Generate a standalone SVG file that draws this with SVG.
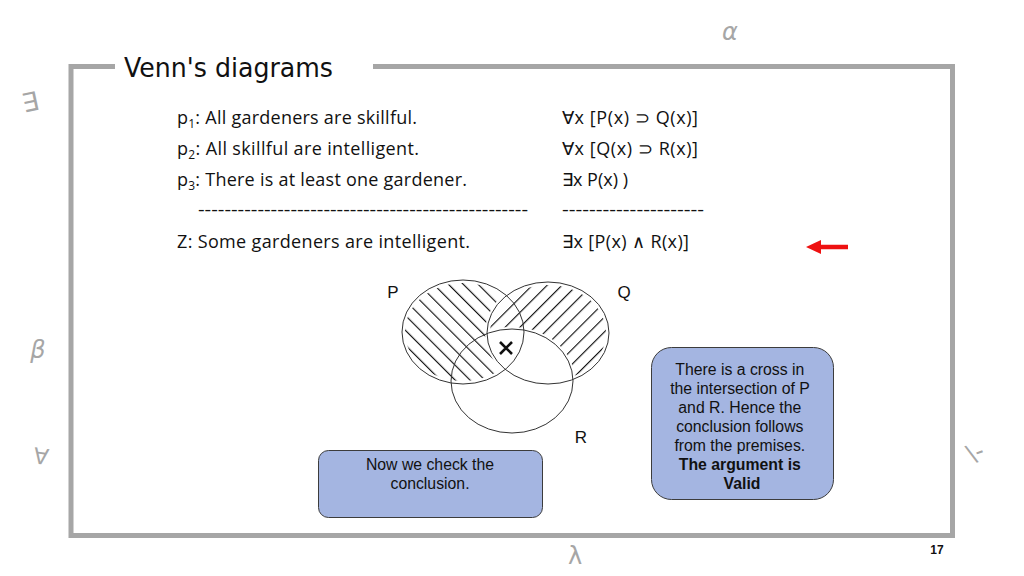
<svg xmlns="http://www.w3.org/2000/svg" width="1024" height="576" viewBox="0 0 1024 576">
<style>
.frame{fill:none;stroke:#a6a6a6;stroke-width:5}
.body{font-family:"Open Sans","Liberation Sans",sans-serif;font-size:18px;fill:#111}
.sans{font-family:"Liberation Sans",Arial,sans-serif;fill:#111}
.deco{font-family:"DejaVu Sans",sans-serif;fill:#a6a6a6}
.box{fill:#a4b5e1;stroke:#3c3c3c;stroke-width:1}
.circ{fill:none;stroke:#333;stroke-width:1}
</style>
<defs>
<pattern id="hatchBack" patternUnits="userSpaceOnUse" width="10.5" height="10.5" patternTransform="rotate(-45)">
<line x1="0" y1="0" x2="0" y2="10.5" stroke="#111" stroke-width="2.3"/>
</pattern>
<pattern id="hatchFwd" patternUnits="userSpaceOnUse" width="10.5" height="10.5" patternTransform="rotate(45)">
<line x1="0" y1="0" x2="0" y2="10.5" stroke="#111" stroke-width="2.3"/>
</pattern>
<mask id="mP">
<ellipse cx="463" cy="332" rx="58" ry="49" fill="#fff"/>
<ellipse cx="548" cy="333" rx="63" ry="54" fill="#000"/>
</mask>
<mask id="mQ">
<ellipse cx="548" cy="333" rx="58" ry="48" fill="#fff"/>
<ellipse cx="512" cy="381" rx="63" ry="54" fill="#000"/>
</mask>
</defs>
<rect width="1024" height="576" fill="#fff"/>
<g id="frame">
<path class="frame" d="M115,66.5 H71 V535.5 H952.5 V66.5 H373"/>
</g>
<g id="title"><text x="124" y="77" font-family="'DejaVu Sans',sans-serif" font-size="27" fill="#111" textLength="209" lengthAdjust="spacingAndGlyphs">Venn's diagrams</text></g>
<g id="deco">
<text class="deco" x="730" y="40" font-size="24" font-style="italic" text-anchor="middle">α</text>
<text class="deco" x="0" y="0" font-size="26" text-anchor="middle" transform="translate(32,111) rotate(-12)" fill="#b4b4b4">∃</text>
<text class="deco" x="38" y="358" font-size="24" font-style="italic" text-anchor="middle">β</text>
<text class="deco" x="0" y="0" font-size="22" text-anchor="middle" transform="translate(40,464) rotate(8)">∀</text>
<text class="deco" x="0" y="0" font-size="24" text-anchor="middle" transform="translate(978,460) rotate(-20)">\-</text>
<text class="deco" x="575" y="564" font-size="24" text-anchor="middle">λ</text>
</g>
<g id="premises" class="body">
<text x="177" y="124" textLength="240" lengthAdjust="spacing">p<tspan font-size="12" dy="4">1</tspan><tspan dy="-4">: All gardeners are skillful.</tspan></text>
<text x="177" y="155" textLength="242" lengthAdjust="spacing">p<tspan font-size="12" dy="4">2</tspan><tspan dy="-4">: All skillful are intelligent.</tspan></text>
<text x="177" y="186" textLength="290" lengthAdjust="spacing">p<tspan font-size="12" dy="4">3</tspan><tspan dy="-4">: There is at least one gardener.</tspan></text>
<text x="198" y="216" textLength="330" lengthAdjust="spacingAndGlyphs">--------------------------------------------------</text>
<text x="177" y="248" textLength="293" lengthAdjust="spacing">Z:  Some gardeners are intelligent.</text>
<text x="562" y="124" textLength="136" lengthAdjust="spacing">∀x [P(x) ⊃ Q(x)]</text>
<text x="562" y="155" textLength="136" lengthAdjust="spacing">∀x [Q(x) ⊃ R(x)]</text>
<text x="562" y="186">∃x P(x) )</text>
<text x="562" y="216" textLength="142" lengthAdjust="spacingAndGlyphs">---------------------</text>
<text x="562" y="248" textLength="127" lengthAdjust="spacing">∃x [P(x) ∧ R(x)]</text>
</g>
<g id="arrow">
<line x1="848" y1="247" x2="818" y2="247" stroke="#ee1111" stroke-width="4.5"/>
<polygon points="806,247 821,240 821,254" fill="#ee1111"/>
</g>
<g id="venn">
<rect x="390" y="270" width="240" height="180" fill="url(#hatchBack)" mask="url(#mP)"/>
<rect x="390" y="270" width="240" height="180" fill="url(#hatchFwd)" mask="url(#mQ)"/>
<ellipse class="circ" cx="463" cy="332" rx="61" ry="52"/>
<ellipse class="circ" cx="548" cy="333" rx="61" ry="51"/>
<ellipse class="circ" cx="512" cy="381" rx="61" ry="52"/>
<path d="M500,342 L512,354 M512,342 L500,354" stroke="#111" stroke-width="2.6"/>
<text class="sans" x="393" y="298" font-size="17" text-anchor="middle">P</text>
<text class="sans" x="624" y="298" font-size="17" text-anchor="middle">Q</text>
<text class="sans" x="581" y="443" font-size="17" text-anchor="middle">R</text>
</g>
<g id="note1">
<rect class="box" x="318.5" y="450.5" width="224" height="67" rx="10"/>
<text class="sans" font-size="15.8" text-anchor="middle"><tspan x="430" y="470">Now we check the</tspan><tspan x="430" y="489">conclusion.</tspan></text>
</g>
<g id="note2">
<rect class="box" x="651.5" y="347.5" width="182" height="152" rx="20"/>
<text class="sans" font-size="15.8" text-anchor="middle">
<tspan x="742" y="375">There is a cross in</tspan>
<tspan x="742" y="394">the intersection of P</tspan>
<tspan x="742" y="413">and R. Hence the</tspan>
<tspan x="742" y="432">conclusion follows</tspan>
<tspan x="742" y="451">from the premises.</tspan>
<tspan x="742" y="470" font-weight="bold">The argument is</tspan>
<tspan x="742" y="489" font-weight="bold">Valid</tspan>
</text>
</g>
<text class="sans" x="937" y="554" font-size="12" font-weight="bold" text-anchor="middle">17</text>
</svg>
